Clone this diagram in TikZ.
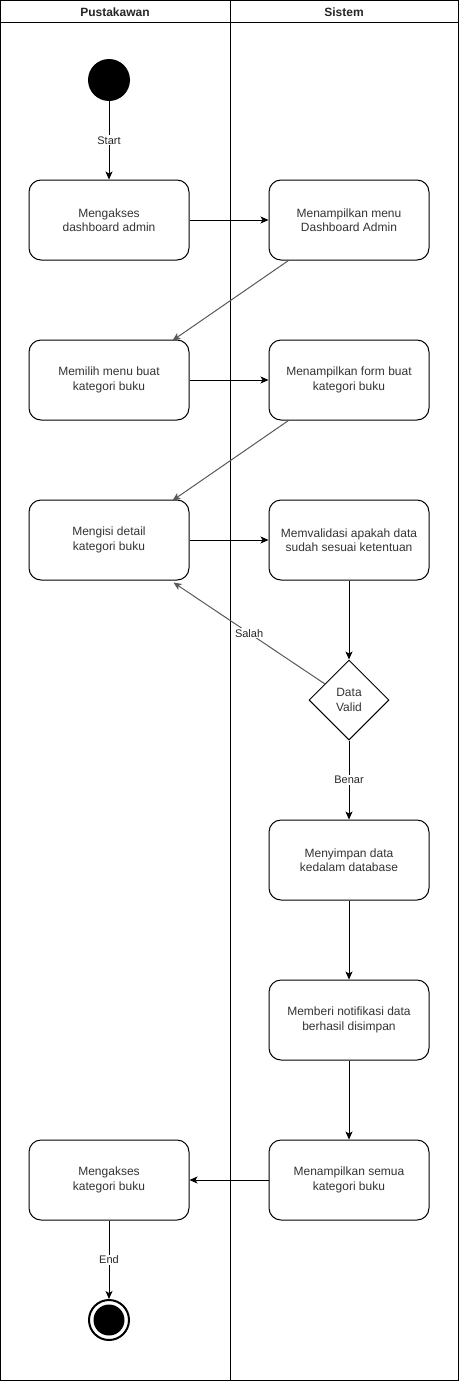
\documentclass[tikz,border=0pt]{standalone}
\usepackage{fontspec}
\setmainfont{Liberation Sans}
\usetikzlibrary{arrows.meta,shapes.geometric,calc}
\begin{document}
\begin{tikzpicture}[x=1pt,y=-1pt,
  act/.style={draw, line width=1pt, rounded corners=12pt, minimum width=160pt, minimum height=80pt, align=center, inner sep=2pt, text=black!80, font=\fontsize{12}{14.5}\selectfont},
  dec/.style={draw, line width=1pt, diamond, minimum width=80pt, minimum height=80pt, inner sep=0pt, align=center, text=black!80, font=\fontsize{12}{14.5}\selectfont},
  flow/.style={line width=1pt, -{Stealth[length=8pt,width=7pt,inset=2pt]}},
  gflow/.style={flow, draw=black!65},
  lbl/.style={fill=white, inner sep=1pt, text=black!85, font=\fontsize{11}{13}\selectfont},
  hdr/.style={font=\bfseries\fontsize{12}{14}\selectfont, text=black!85}]
\useasboundingbox (0,0) rectangle (459,1381);
% swimlanes
\draw[line width=1pt] (0.5,0.5) rectangle (458.5,1380.5);
\draw[line width=1pt] (230,0.5) -- (230,1380.5);
\draw[line width=1pt] (0.5,23) -- (458.5,23);
\node[hdr] (h1) at (115,12) {Pustakawan};
\node[hdr] (h2) at (344,12) {Sistem};
% nodes
\node[circle, fill=black, minimum size=42pt, inner sep=0pt] (s) at (109,80) {};
\node[act] (a1) at (109,220) {Mengakses\\dashboard admin};
\node[act] (b1) at (349,220) {Menampilkan menu\\Dashboard Admin};
\node[act] (a2) at (109,380) {Memilih menu buat\\kategori buku};
\node[act] (b2) at (349,380) {Menampilkan form buat\\kategori buku};
\node[act] (a3) at (109,540) {Mengisi detail\\kategori buku};
\node[act] (b3) at (349,540) {Memvalidasi apakah data\\sudah sesuai ketentuan};
\node[dec] (d) at (349,700) {Data\\Valid};
\node[act] (b4) at (349,860) {Menyimpan data\\kedalam database};
\node[act] (b5) at (349,1020) {Memberi notifikasi data\\berhasil disimpan};
\node[act] (b6) at (349,1180) {Menampilkan semua\\kategori buku};
\node[act] (a4) at (109,1180) {Mengakses\\kategori buku};
\node[circle, draw, line width=2pt, minimum size=40pt, inner sep=0pt] (e) at (109,1320) {};
\fill (e.center) circle (15.5pt);
\coordinate (dsal) at ($(d.west)!0.4!(d.north)$);
% connectors
\draw[flow] (s) -- node[lbl] {Start} (a1);
\draw[flow] (a1) -- (b1);
\draw[gflow] ($(b1.south west)+(20,0)$) -- ($(a2.north east)+(-17,1)$);
\draw[flow] (a2) -- (b2);
\draw[gflow] ($(b2.south west)+(20,0)$) -- ($(a3.north east)+(-17,1)$);
\draw[flow] (a3) -- (b3);
\draw[flow] (b3) -- (d);
\draw[gflow] (dsal) -- node[lbl] {Salah} ($(a3.south east)+(-16,2)$);
\draw[flow] (d) -- node[lbl] {Benar} (b4);
\draw[flow] (b4) -- (b5);
\draw[flow] (b5) -- (b6);
\draw[flow] (b6) -- (a4);
\draw[flow] (a4) -- node[lbl] {End} (e);
\end{tikzpicture}
\end{document}
